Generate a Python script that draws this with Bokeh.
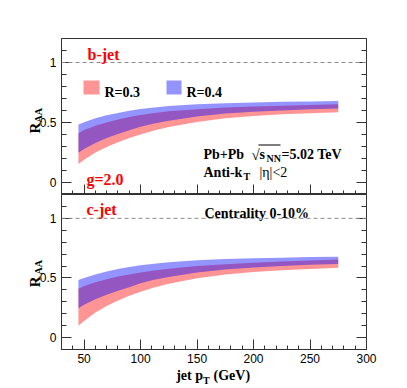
import math
from bokeh.plotting import figure
from bokeh.models import Range1d, LinearAxis, FixedTicker, Span, Label, BoxAnnotation
from bokeh.layouts import column
from bokeh.embed import file_html
from bokeh.resources import INLINE

# ---------------- data ----------------
pt = [45, 50, 60, 70, 80, 90, 100, 112, 125, 150, 175, 200, 225, 250, 275]

# b-jet
b_r03_lo = [0.155, 0.19, 0.25, 0.295, 0.335, 0.37, 0.40, 0.433, 0.462, 0.505, 0.535, 0.555, 0.568, 0.578, 0.585]
b_r03_hi = [0.41, 0.437, 0.472, 0.50, 0.525, 0.545, 0.562, 0.58, 0.593, 0.611, 0.624, 0.633, 0.64, 0.646, 0.652]
b_r04_lo = [0.247, 0.28, 0.33, 0.37, 0.405, 0.435, 0.465, 0.492, 0.515, 0.55, 0.574, 0.59, 0.601, 0.61, 0.617]
b_r04_hi = [0.483, 0.503, 0.535, 0.56, 0.58, 0.598, 0.612, 0.626, 0.637, 0.652, 0.661, 0.667, 0.672, 0.676, 0.68]

# c-jet
c_r03_lo = [0.10, 0.14, 0.21, 0.265, 0.31, 0.35, 0.385, 0.42, 0.452, 0.497, 0.528, 0.55, 0.565, 0.576, 0.585]
c_r03_hi = [0.41, 0.432, 0.465, 0.49, 0.512, 0.53, 0.546, 0.563, 0.578, 0.60, 0.616, 0.628, 0.638, 0.647, 0.655]
c_r04_lo = [0.245, 0.275, 0.322, 0.36, 0.393, 0.422, 0.455, 0.484, 0.508, 0.545, 0.57, 0.587, 0.60, 0.61, 0.618]
c_r04_hi = [0.483, 0.50, 0.53, 0.555, 0.575, 0.592, 0.606, 0.62, 0.632, 0.648, 0.658, 0.665, 0.67, 0.675, 0.678]

x_major = [50, 100, 150, 200, 250, 300]
x_minor = [30, 40, 60, 70, 80, 90, 110, 120, 130, 140, 160, 170, 180, 190,
           210, 220, 230, 240, 260, 270, 280, 290]
y_major = [0, 0.5, 1]
y_major_labels = {0: "0", 0.5: "0.5", 1: "1"}
y_minor = [-0.1, 0.1, 0.2, 0.3, 0.4, 0.6, 0.7, 0.8, 0.9, 1.1, 1.2]

legend_labels = ["R=0.3", "R=0.4"]
panel_names = ["b-jet", "c-jet"]

RED = "red"
BLUE = "blue"
ALPHA = 0.42
SERIF = "Liberation Serif"
SANS = "Liberation Sans"
TICK_COL = "#333333"


def style_axis(ax, labels=True, major_in=10, minor_in=5):
    ax.axis_line_color = None
    ax.major_tick_in = major_in
    ax.major_tick_out = 0
    ax.minor_tick_in = minor_in
    ax.minor_tick_out = 0
    ax.major_tick_line_color = TICK_COL
    ax.minor_tick_line_color = TICK_COL
    if labels:
        ax.major_label_text_font = SANS
        ax.major_label_text_font_size = "12px"
        ax.major_label_text_color = "black"
        ax.major_label_standoff = 5
    else:
        ax.major_label_text_font_size = "0px"
        ax.major_label_text_color = None
        ax.major_label_standoff = 0


def lbl(p, x, y, text, size="14px", color="black", bold=True, font=SERIF, angle=0.0):
    p.add_layout(Label(x=x, y=y, x_units="screen", y_units="screen", text=text,
                       text_font=font, text_font_size=size,
                       text_font_style="bold" if bold else "normal",
                       text_color=color, text_baseline="alphabetic", text_align="left",
                       angle=angle))


def clbl(p, place, x, y, text, size="14px", angle=0.0):
    # label placed in a side panel (not clipped to the frame); canvas units, y downwards
    p.add_layout(Label(x=x, y=y, x_units="canvas", y_units="canvas", text=text,
                       text_font=SERIF, text_font_size=size, text_font_style="bold",
                       text_color="black", text_baseline="alphabetic", text_align="left",
                       angle=angle), place)


def make_panel(lo3, hi3, lo4, hi4, height, border_top, border_bottom, bottom_labels):
    p = figure(width=407, height=height, x_range=Range1d(30, 300), y_range=Range1d(-0.1, 1.2),
               output_backend="svg", toolbar_location=None,
               x_axis_location=None, y_axis_location=None,
               min_border_left=61, min_border_right=41,
               min_border_top=border_top, min_border_bottom=border_bottom)
    p.grid.visible = False
    p.outline_line_color = "#333333"
    p.outline_line_width = 1
    p.background_fill_color = "white"
    p.border_fill_color = "white"

    xt = FixedTicker(ticks=x_major, minor_ticks=x_minor)
    yt = FixedTicker(ticks=y_major, minor_ticks=y_minor)

    left = LinearAxis(ticker=yt, major_label_overrides=y_major_labels)
    style_axis(left, labels=True)
    p.add_layout(left, "left")
    right = LinearAxis(ticker=yt)
    style_axis(right, labels=False)
    p.add_layout(right, "right")
    below = LinearAxis(ticker=xt)
    style_axis(below, labels=bottom_labels, major_in=10, minor_in=4)
    if bottom_labels:
        below.major_label_standoff = 4
    p.add_layout(below, "below")

    p.add_layout(Span(location=1, dimension="width", line_color="#8c8c8c",
                      line_dash="4 3", line_width=1))

    p.varea(x=pt, y1=lo3, y2=hi3, fill_color=RED, fill_alpha=ALPHA)
    p.varea(x=pt, y1=lo4, y2=hi4, fill_color=BLUE, fill_alpha=ALPHA)
    return p


def box(p, l, r, b, t, color, alpha):
    p.add_layout(BoxAnnotation(left=l, right=r, bottom=b, top=t,
                               left_units="screen", right_units="screen",
                               bottom_units="screen", top_units="screen",
                               fill_color=color, fill_alpha=alpha, line_color=None))


# ---------------- top panel: b-jet ----------------
p1 = make_panel(b_r03_lo, b_r03_hi, b_r04_lo, b_r04_hi, 194, 38, 0, False)
lbl(p1, 26, 140, panel_names[0], size="16px", color="red")
lbl(p1, 25, 15, "g=2.0", size="16px", color="red")
box(p1, 22, 38, 100, 114, RED, ALPHA)
lbl(p1, 43, 102, legend_labels[0])
box(p1, 105, 120, 100, 114, BLUE, ALPHA)
lbl(p1, 125, 102, legend_labels[1])
# Pb+Pb sqrt(s_NN)=5.02 TeV
lbl(p1, 142, 40, "Pb+Pb")
lbl(p1, 190, 40, "\u221a", size="15px", bold=False)
lbl(p1, 198, 40, "s")
lbl(p1, 205, 36.5, "NN", size="10px")
box(p1, 197, 219, 49, 50, "black", 1.0)
lbl(p1, 220, 40, "=5.02 TeV")
# Anti-kT |eta|<2
lbl(p1, 142, 22, "Anti-k")
lbl(p1, 182, 18.5, "T", size="10px")
lbl(p1, 198, 22, "|\u03b7|<2", bold=False)
# y title
clbl(p1, "left", 34, 133, "R", size="15px", angle=math.pi / 2)
clbl(p1, "left", 37.5, 122, "AA", size="10px", angle=math.pi / 2)

# ---------------- bottom panel: c-jet ----------------
p2 = make_panel(c_r03_lo, c_r03_hi, c_r04_lo, c_r04_hi, 194, 0, 39, True)
lbl(p2, 25, 140, panel_names[1], size="16px", color="red")
lbl(p2, 143, 136, "Centrality 0-10%")
clbl(p2, "left", 34, 92.7, "R", size="15px", angle=math.pi / 2)
clbl(p2, "left", 37.5, 80, "AA", size="10px", angle=math.pi / 2)
# x title
clbl(p2, "below", 175.7, 181, "jet p")
clbl(p2, "left", 202.5, 186, "T", size="10px")
clbl(p2, "right", 213, 181, "(GeV)")

layout = column(p1, p2, spacing=0)
open("out.html", "w").write(file_html(layout, INLINE))
